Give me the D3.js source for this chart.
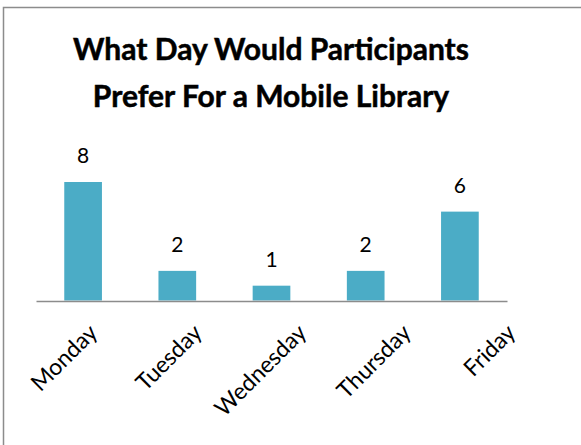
<!DOCTYPE html>
<html>
<head>
<meta charset="utf-8">
<script src="https://cdn.jsdelivr.net/npm/d3@7"></script>
<style>
  html, body { margin: 0; padding: 0; background: #fff; }
  svg { display: block; }
</style>
</head>
<body>
<svg id="chart" width="581" height="445"></svg>
<script>
const titleLines = ["What Day Would Participants", "Prefer For a Mobile Library"];
const categories = ["Monday", "Tuesday", "Wednesday", "Thursday", "Friday"];
const values = [8, 2, 1, 2, 6];

const svg = d3.select("#chart");
const font = "Lato, 'Open Sans', sans-serif";

// chart border (extends beyond the visible window at right and bottom)
svg.append("rect")
  .attr("x", 3.5).attr("y", 7.5)
  .attr("width", 700).attr("height", 600)
  .attr("fill", "#fff")
  .attr("stroke", "#8c8c8c").attr("stroke-width", 1.5);

// title
const title = svg.append("text")
  .attr("text-anchor", "middle")
  .attr("font-family", font)
  .attr("font-weight", "bold")
  .attr("font-size", 30)
  .attr("stroke", "#000").attr("stroke-width", 0.5)
  .attr("fill", "#000");
titleLines.forEach((t, i) => {
  title.append("tspan").attr("x", 271).attr("y", 60 + i * 46.5).text(t);
});

// scales
const x = d3.scaleBand()
  .domain(categories)
  .range([36, 507])
  .paddingInner(0.6)
  .paddingOuter(0.3);

const y = d3.scaleLinear()
  .domain([0, 8])
  .range([300.5, 182]);

// bars
svg.append("g").selectAll("rect")
  .data(categories)
  .join("rect")
  .attr("x", (d) => x(d))
  .attr("width", x.bandwidth())
  .attr("y", (d, i) => y(values[i]))
  .attr("height", (d, i) => y(0) - y(values[i]))
  .attr("fill", "#4bacc6");

// axis line
const axis = svg.append("g")
  .attr("transform", `translate(0,${y(0) + 0.5})`)
  .call(d3.axisBottom(x).tickSize(0).tickFormat(""));
axis.select(".domain").attr("stroke", "#8c8c8c").attr("stroke-width", 1.5);

// value labels
svg.append("g").selectAll("text")
  .data(categories)
  .join("text")
  .attr("x", (d) => x(d) + x.bandwidth() / 2)
  .attr("y", (d, i) => y(values[i]) - 19)
  .attr("text-anchor", "middle")
  .attr("font-family", font)
  .attr("font-size", 21)
  .attr("fill", "#000")
  .text((d, i) => values[i]);

// category labels (rotated)
const labelX = d3.scalePoint().domain(categories).range([99, 517]);
svg.append("g").selectAll("text")
  .data(categories)
  .join("text")
  .attr("transform", (d) => `translate(${labelX(d)},334) rotate(-45)`)
  .attr("text-anchor", "end")
  .attr("font-family", font)
  .attr("font-size", 23)
  .attr("fill", "#000")
  .text((d) => d);
</script>
</body>
</html>
